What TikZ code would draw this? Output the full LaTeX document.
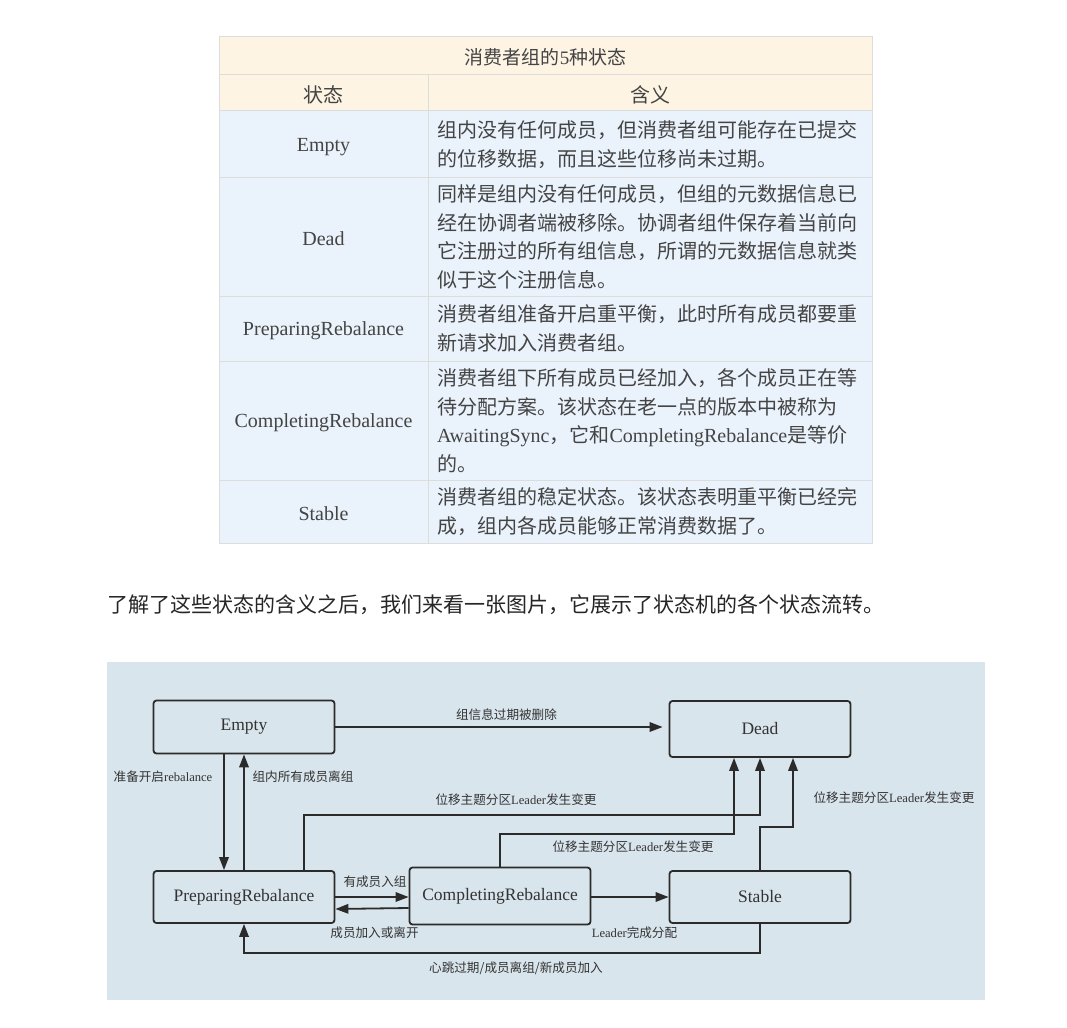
\documentclass[tikz,border=0pt]{standalone}
\usepackage{fontspec}
\setmainfont{Liberation Serif}
\newfontfamily\cjk{Noto Sans CJK SC}
\usetikzlibrary{arrows.meta,calc}
\definecolor{cream}{HTML}{FDF4E4}
\definecolor{rowblue}{HTML}{EAF2FB}
\definecolor{gridline}{HTML}{DCDCDC}
\definecolor{tabtext}{HTML}{444444}
\definecolor{diagbg}{HTML}{D9E5EC}
\definecolor{ink}{HTML}{2B2B2B}
\definecolor{labeltext}{HTML}{333333}
\newcommand{\lowerby}[2]{\raisebox{-#1}[\height][\depth]{#2}}
\begin{document}
\begin{tikzpicture}[x=1pt,y=-1pt,
  cell/.style={draw=gridline, line width=1pt, inner sep=0pt, outer sep=0pt, text=tabtext, anchor=north west},
  headcell/.style={cell, fill=cream, font=\cjk\fontsize{20}{24}\selectfont},
  namecell/.style={cell, fill=rowblue, minimum width=209pt, font=\fontsize{20}{24}\selectfont},
  desccell/.style={cell, fill=rowblue, text width=426pt, inner xsep=9pt, align=left, font=\cjk\fontsize{20}{28.6}\selectfont},
  state/.style={draw=ink, line width=1.8pt, rounded corners=3pt, fill=diagbg, minimum width=181pt, inner sep=0pt, font=\fontsize{17.5}{20}\selectfont, text=labeltext},
  lab/.style={inner sep=0pt, font=\cjk\fontsize{12.6}{15}\selectfont, text=labeltext},
  arr/.style={draw=ink, line width=1.8pt, line join=miter, -{Triangle[length=13pt,width=9.5pt]}}
]
\useasboundingbox (0,0) rectangle (1067,1027);
\fill[white] (0,0) rectangle (1067,1027);

% ---------- table ----------
\node[headcell, minimum width=653pt, minimum height=38pt, font=\cjk\fontsize{19}{23}\selectfont] (title) at (219,37) {\lowerby{1pt}{消费者组的{\rmfamily 5}种状态}};
\node[headcell, minimum width=209pt, minimum height=36pt] (hstate) at (219,75) {\lowerby{1.5pt}{状态}};
\node[headcell, minimum width=444pt, minimum height=36pt] (hmean) at (428,75) {\lowerby{1.5pt}{含义}};

\node[namecell, minimum height=67pt] (nEmpty) at (219,111) {\lowerby{3pt}{Empty}};
\node[desccell, minimum height=67pt] (dEmpty) at (428,111) {组内没有任何成员，但消费者组可能存在已提交\\的位移数据，而且这些位移尚未过期。};

\node[namecell, minimum height=118pt] (nDead) at (219,178) {\lowerby{1.5pt}{Dead}};
\node[desccell, minimum height=118pt] (dDead) at (428,178) {同样是组内没有任何成员，但组的元数据信息已\\经在协调者端被移除。协调者组件保存着当前向\\它注册过的所有组信息，所谓的元数据信息就类\\似于这个注册信息。};

\node[namecell, minimum height=65pt] (nPrep) at (219,296) {\lowerby{2pt}{PreparingRebalance}};
\node[desccell, minimum height=65pt] (dPrep) at (428,296) {消费者组准备开启重平衡，此时所有成员都要重\\新请求加入消费者组。};

\node[namecell, minimum height=119pt] (nComp) at (219,361) {\lowerby{2pt}{CompletingRebalance}};
\node[desccell, minimum height=119pt] (dComp) at (428,361) {消费者组下所有成员已经加入，各个成员正在等\\待分配方案。该状态在老一点的版本中被称为\\{\rmfamily AwaitingSync}，它和{\rmfamily CompletingRebalance}是等价\\的。};

\node[namecell, minimum height=63pt] (nStable) at (219,480) {\lowerby{2pt}{Stable}};
\node[desccell, minimum height=63pt] (dStable) at (428,480) {消费者组的稳定状态。该状态表明重平衡已经完\\成，组内各成员能够正常消费数据了。};

% ---------- paragraph ----------
\node[anchor=west, inner sep=0pt, font=\cjk\fontsize{21}{25}\selectfont, text=black!85] (para) at (107,605) {了解了这些状态的含义之后，我们来看一张图片，它展示了状态机的各个状态流转。};

% ---------- diagram ----------
\node[fill=diagbg, minimum width=878pt, minimum height=338pt, anchor=north west, inner sep=0pt] (bg) at (107,662) {};

\node[state, minimum height=53pt] (Empty) at (244,727) {Empty};
\node[state, minimum height=56pt] (Dead) at (760,729) {Dead};
\node[state, minimum height=52pt] (Prep) at (244,897) {PreparingRebalance};
\node[state, minimum height=57pt] (Comp) at (500,896) {CompletingRebalance};
\node[state, minimum height=52pt] (Stable) at (760,897) {Stable};

\draw[arr, shorten >=6pt] (Empty.east) -- (Empty.east -| Dead.west);
\draw[arr] ([xshift=-20pt]Empty.south) -- ([xshift=-20pt]Prep.north);
\draw[arr] (Prep.north) -- (Empty.south);
\draw[arr] ([xshift=60pt]Prep.north) |- ([yshift=-57pt]Dead.south) -- (Dead.south);
\draw[arr] (Comp.north) |- ([xshift=-26pt,yshift=-76pt]Dead.south) -- ([xshift=-26pt]Dead.south);
\draw[arr] (Stable.north) -- ([yshift=-69pt]Dead.south) -| ([xshift=33pt]Dead.south);
\draw[arr] (Prep.east) -- (Prep.east -| Comp.west);
\draw[arr] ($(Comp.west)+(0,12)$) -- ($(Prep.east)+(0,12)$);
\draw[arr] (Comp.east |- Stable.west) -- (Stable.west);
\draw[arr] (Stable.south) |- ($(Prep.south)+(0,29)$) -- (Prep.south);

\node[lab] (l1) at (506.5,715) {组信息过期被删除};
\node[lab] (l2) at (163,777) {准备开启{\rmfamily rebalance}};
\node[lab] (l3) at (303,777) {组内所有成员离组};
\node[lab] (l4) at (516,800) {位移主题分区{\rmfamily Leader}发生变更};
\node[lab] (l5) at (633,847) {位移主题分区{\rmfamily Leader}发生变更};
\node[lab] (l6) at (894,798) {位移主题分区{\rmfamily Leader}发生变更};
\node[lab] (l7) at (375,882) {有成员入组};
\node[lab] (l8) at (374.5,933) {成员加入或离开};
\node[lab] (l9) at (634.5,933) {{\rmfamily Leader}完成分配};
\node[lab] (l10) at (516,968) {心跳过期/成员离组/新成员加入};
\end{tikzpicture}
\end{document}
